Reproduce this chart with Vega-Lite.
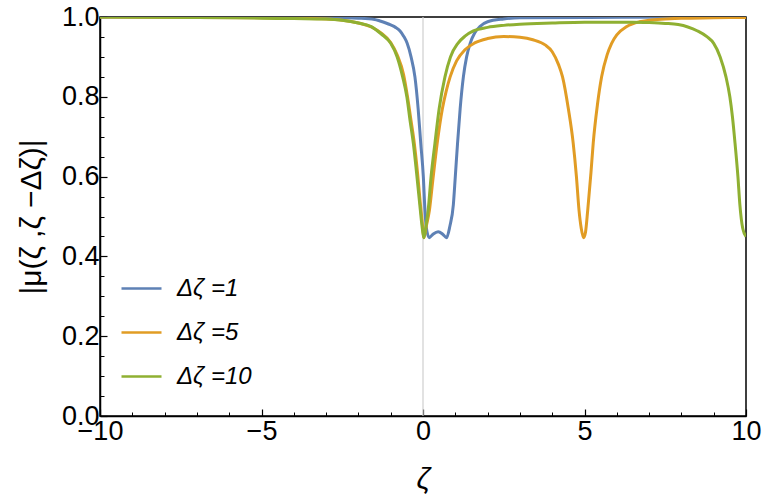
{
  "$schema": "https://vega.github.io/schema/vega-lite/v6.json",
  "width": 646,
  "height": 399,
  "autosize": "none",
  "padding": {"left": 100, "top": 17, "right": 17, "bottom": 88},
  "background": "white",
  "config": {
    "view": {"stroke": "black", "strokeWidth": 1.5},
    "font": "Liberation Sans",
    "axis": {"grid": false, "domainColor": "black", "tickColor": "black", "labelColor": "black", "titleColor": "black", "labelFont": "Liberation Sans", "titleFont": "Liberation Sans", "titleFontWeight": "normal"}
  },
  "datasets": {
    "curves": [
      {"s": "Δζ =1", "x": -10, "y": 1.0}, {"s": "Δζ =1", "x": -5, "y": 1.0}, {"s": "Δζ =1", "x": -3, "y": 0.999}, {"s": "Δζ =1", "x": -2, "y": 0.997}, {"s": "Δζ =1", "x": -1.5, "y": 0.994}, {"s": "Δζ =1", "x": -1.33, "y": 0.99}, {"s": "Δζ =1", "x": -1.15, "y": 0.985}, {"s": "Δζ =1", "x": -1.0, "y": 0.98}, {"s": "Δζ =1", "x": -0.85, "y": 0.974}, {"s": "Δζ =1", "x": -0.71, "y": 0.965}, {"s": "Δζ =1", "x": -0.6, "y": 0.952}, {"s": "Δζ =1", "x": -0.49, "y": 0.934}, {"s": "Δζ =1", "x": -0.37, "y": 0.9}, {"s": "Δζ =1", "x": -0.25, "y": 0.85}, {"s": "Δζ =1", "x": -0.15, "y": 0.77}, {"s": "Δζ =1", "x": -0.07, "y": 0.684}, {"s": "Δζ =1", "x": 0.01, "y": 0.6}, {"s": "Δζ =1", "x": 0.06, "y": 0.516}, {"s": "Δζ =1", "x": 0.1, "y": 0.474}, {"s": "Δζ =1", "x": 0.19, "y": 0.447}, {"s": "Δζ =1", "x": 0.3, "y": 0.455}, {"s": "Δζ =1", "x": 0.47, "y": 0.462}, {"s": "Δζ =1", "x": 0.62, "y": 0.455}, {"s": "Δζ =1", "x": 0.73, "y": 0.447}, {"s": "Δζ =1", "x": 0.83, "y": 0.475}, {"s": "Δζ =1", "x": 0.94, "y": 0.53}, {"s": "Δζ =1", "x": 1.0, "y": 0.6}, {"s": "Δζ =1", "x": 1.07, "y": 0.684}, {"s": "Δζ =1", "x": 1.15, "y": 0.77}, {"s": "Δζ =1", "x": 1.25, "y": 0.85}, {"s": "Δζ =1", "x": 1.35, "y": 0.9}, {"s": "Δζ =1", "x": 1.46, "y": 0.934}, {"s": "Δζ =1", "x": 1.6, "y": 0.96}, {"s": "Δζ =1", "x": 1.76, "y": 0.976}, {"s": "Δζ =1", "x": 2.0, "y": 0.988}, {"s": "Δζ =1", "x": 2.5, "y": 0.995}, {"s": "Δζ =1", "x": 3, "y": 0.998}, {"s": "Δζ =1", "x": 5, "y": 0.999}, {"s": "Δζ =1", "x": 10, "y": 1.0},

      {"s": "Δζ =5", "x": -10, "y": 1.0}, {"s": "Δζ =5", "x": -7, "y": 0.999}, {"s": "Δζ =5", "x": -5, "y": 0.998}, {"s": "Δζ =5", "x": -4, "y": 0.997}, {"s": "Δζ =5", "x": -3, "y": 0.995}, {"s": "Δζ =5", "x": -2.5, "y": 0.992}, {"s": "Δζ =5", "x": -2, "y": 0.985}, {"s": "Δζ =5", "x": -1.6, "y": 0.975}, {"s": "Δζ =5", "x": -1.3, "y": 0.96}, {"s": "Δζ =5", "x": -1.0, "y": 0.936}, {"s": "Δζ =5", "x": -0.8, "y": 0.905}, {"s": "Δζ =5", "x": -0.6, "y": 0.855}, {"s": "Δζ =5", "x": -0.48, "y": 0.8}, {"s": "Δζ =5", "x": -0.37, "y": 0.74}, {"s": "Δζ =5", "x": -0.27, "y": 0.684}, {"s": "Δζ =5", "x": -0.17, "y": 0.61}, {"s": "Δζ =5", "x": -0.08, "y": 0.53}, {"s": "Δζ =5", "x": -0.03, "y": 0.49}, {"s": "Δζ =5", "x": 0.03, "y": 0.447}, {"s": "Δζ =5", "x": 0.1, "y": 0.475}, {"s": "Δζ =5", "x": 0.2, "y": 0.516}, {"s": "Δζ =5", "x": 0.3, "y": 0.588}, {"s": "Δζ =5", "x": 0.44, "y": 0.684}, {"s": "Δζ =5", "x": 0.6, "y": 0.77}, {"s": "Δζ =5", "x": 0.72, "y": 0.815}, {"s": "Δζ =5", "x": 0.84, "y": 0.85}, {"s": "Δζ =5", "x": 1.04, "y": 0.89}, {"s": "Δζ =5", "x": 1.3, "y": 0.918}, {"s": "Δζ =5", "x": 1.6, "y": 0.935}, {"s": "Δζ =5", "x": 2.0, "y": 0.946}, {"s": "Δζ =5", "x": 2.5, "y": 0.951}, {"s": "Δζ =5", "x": 3.0, "y": 0.949}, {"s": "Δζ =5", "x": 3.4, "y": 0.943}, {"s": "Δζ =5", "x": 3.78, "y": 0.93}, {"s": "Δζ =5", "x": 4.0, "y": 0.913}, {"s": "Δζ =5", "x": 4.2, "y": 0.88}, {"s": "Δζ =5", "x": 4.32, "y": 0.85}, {"s": "Δζ =5", "x": 4.5, "y": 0.77}, {"s": "Δζ =5", "x": 4.65, "y": 0.684}, {"s": "Δζ =5", "x": 4.75, "y": 0.6}, {"s": "Δζ =5", "x": 4.83, "y": 0.516}, {"s": "Δζ =5", "x": 4.9, "y": 0.47}, {"s": "Δζ =5", "x": 4.97, "y": 0.447}, {"s": "Δζ =5", "x": 5.03, "y": 0.46}, {"s": "Δζ =5", "x": 5.1, "y": 0.516}, {"s": "Δζ =5", "x": 5.2, "y": 0.61}, {"s": "Δζ =5", "x": 5.27, "y": 0.684}, {"s": "Δζ =5", "x": 5.4, "y": 0.78}, {"s": "Δζ =5", "x": 5.53, "y": 0.85}, {"s": "Δζ =5", "x": 5.7, "y": 0.905}, {"s": "Δζ =5", "x": 5.84, "y": 0.934}, {"s": "Δζ =5", "x": 6.0, "y": 0.955}, {"s": "Δζ =5", "x": 6.31, "y": 0.976}, {"s": "Δζ =5", "x": 6.7, "y": 0.988}, {"s": "Δζ =5", "x": 7.0, "y": 0.992}, {"s": "Δζ =5", "x": 7.5, "y": 0.995}, {"s": "Δζ =5", "x": 8, "y": 0.997}, {"s": "Δζ =5", "x": 9, "y": 0.998}, {"s": "Δζ =5", "x": 10, "y": 0.999},

      {"s": "Δζ =10", "x": -10, "y": 1.0}, {"s": "Δζ =10", "x": -7, "y": 0.999}, {"s": "Δζ =10", "x": -5, "y": 0.997}, {"s": "Δζ =10", "x": -4, "y": 0.996}, {"s": "Δζ =10", "x": -3, "y": 0.995}, {"s": "Δζ =10", "x": -2.5, "y": 0.992}, {"s": "Δζ =10", "x": -2, "y": 0.985}, {"s": "Δζ =10", "x": -1.6, "y": 0.976}, {"s": "Δζ =10", "x": -1.3, "y": 0.958}, {"s": "Δζ =10", "x": -1.0, "y": 0.934}, {"s": "Δζ =10", "x": -0.8, "y": 0.9}, {"s": "Δζ =10", "x": -0.63, "y": 0.85}, {"s": "Δζ =10", "x": -0.5, "y": 0.8}, {"s": "Δζ =10", "x": -0.4, "y": 0.74}, {"s": "Δζ =10", "x": -0.3, "y": 0.684}, {"s": "Δζ =10", "x": -0.2, "y": 0.61}, {"s": "Δζ =10", "x": -0.1, "y": 0.53}, {"s": "Δζ =10", "x": -0.05, "y": 0.49}, {"s": "Δζ =10", "x": 0, "y": 0.458}, {"s": "Δζ =10", "x": 0.03, "y": 0.447}, {"s": "Δζ =10", "x": 0.08, "y": 0.47}, {"s": "Δζ =10", "x": 0.16, "y": 0.516}, {"s": "Δζ =10", "x": 0.25, "y": 0.6}, {"s": "Δζ =10", "x": 0.37, "y": 0.684}, {"s": "Δζ =10", "x": 0.5, "y": 0.77}, {"s": "Δζ =10", "x": 0.68, "y": 0.85}, {"s": "Δζ =10", "x": 0.85, "y": 0.9}, {"s": "Δζ =10", "x": 1.08, "y": 0.934}, {"s": "Δζ =10", "x": 1.3, "y": 0.952}, {"s": "Δζ =10", "x": 1.56, "y": 0.965}, {"s": "Δζ =10", "x": 2.0, "y": 0.974}, {"s": "Δζ =10", "x": 2.5, "y": 0.979}, {"s": "Δζ =10", "x": 3.0, "y": 0.982}, {"s": "Δζ =10", "x": 4, "y": 0.985}, {"s": "Δζ =10", "x": 5, "y": 0.987}, {"s": "Δζ =10", "x": 6, "y": 0.987}, {"s": "Δζ =10", "x": 6.5, "y": 0.987}, {"s": "Δζ =10", "x": 7, "y": 0.986}, {"s": "Δζ =10", "x": 7.5, "y": 0.984}, {"s": "Δζ =10", "x": 7.9, "y": 0.981}, {"s": "Δζ =10", "x": 8.2, "y": 0.975}, {"s": "Δζ =10", "x": 8.5, "y": 0.965}, {"s": "Δζ =10", "x": 8.8, "y": 0.95}, {"s": "Δζ =10", "x": 9.0, "y": 0.934}, {"s": "Δζ =10", "x": 9.2, "y": 0.9}, {"s": "Δζ =10", "x": 9.38, "y": 0.85}, {"s": "Δζ =10", "x": 9.5, "y": 0.8}, {"s": "Δζ =10", "x": 9.58, "y": 0.75}, {"s": "Δζ =10", "x": 9.66, "y": 0.684}, {"s": "Δζ =10", "x": 9.75, "y": 0.6}, {"s": "Δζ =10", "x": 9.81, "y": 0.53}, {"s": "Δζ =10", "x": 9.9, "y": 0.47}, {"s": "Δζ =10", "x": 10, "y": 0.45}
    ],
    "axisline": [{"x": 0, "y0": 0, "y1": 1}]
  },
  "layer": [
    {
      "data": {"name": "axisline"},
      "mark": {"type": "rule", "color": "#cfcfcf", "strokeWidth": 1.2},
      "encoding": {
        "x": {"field": "x", "type": "quantitative", "scale": {"domain": [-10, 10], "nice": false, "zero": false},
          "axis": {"orient": "bottom", "values": [-9,-8,-7,-6,-4,-3,-2,-1,1,2,3,4,6,7,8,9], "labels": false, "domain": false, "tickSize": -4, "tickWidth": 1, "title": null}},
        "y": {"field": "y0", "type": "quantitative", "scale": {"domain": [0, 1], "nice": false},
          "axis": {"orient": "left", "values": [0.05,0.1,0.15,0.25,0.3,0.35,0.45,0.5,0.55,0.65,0.7,0.75,0.85,0.9,0.95], "labels": false, "domain": false, "tickSize": -4, "tickWidth": 1, "title": null}},
        "y2": {"field": "y1"}
      }
    },
    {
      "data": {"name": "curves"},
      "mark": {"type": "line", "strokeWidth": 3, "interpolate": "monotone", "clip": true},
      "encoding": {
        "x": {"field": "x", "type": "quantitative", "scale": {"domain": [-10, 10], "nice": false, "zero": false},
          "axis": {"orient": "bottom", "values": [-10, -5, 0, 5, 10], "tickSize": -7, "tickWidth": 1.2, "domainWidth": 1.5, "labelFontSize": 27, "labelPadding": 9, "labelFlush": false, "title": "ζ", "titleFontSize": 30, "titleFontStyle": "italic", "titlePadding": 20}},
        "y": {"field": "y", "type": "quantitative", "scale": {"domain": [0, 1], "nice": false},
          "axis": {"orient": "left", "values": [0, 0.2, 0.4, 0.6, 0.8, 1.0], "format": ".1f", "tickSize": -7, "tickWidth": 1.2, "domainWidth": 1.5, "labelFontSize": 27, "labelPadding": 8, "labelFlush": false, "title": "|μ(ζ ,ζ −Δζ)|", "titleFontSize": 30, "titlePadding": 15}},
        "color": {"field": "s", "type": "nominal",
          "scale": {"domain": ["Δζ =1", "Δζ =5", "Δζ =10"], "range": ["#5E81B5", "#E19C24", "#8FB032"]},
          "legend": {"title": null, "orient": "none", "legendX": 20, "legendY": 250, "symbolType": "stroke", "symbolSize": 1600, "symbolStrokeWidth": 2.5, "labelFontSize": 24, "labelFontStyle": "italic", "labelFont": "Liberation Sans", "labelColor": "black", "labelOffset": 14, "rowPadding": 10, "padding": 0}}
      }
    }
  ],
  "resolve": {"axis": {"x": "independent", "y": "independent"}}
}
